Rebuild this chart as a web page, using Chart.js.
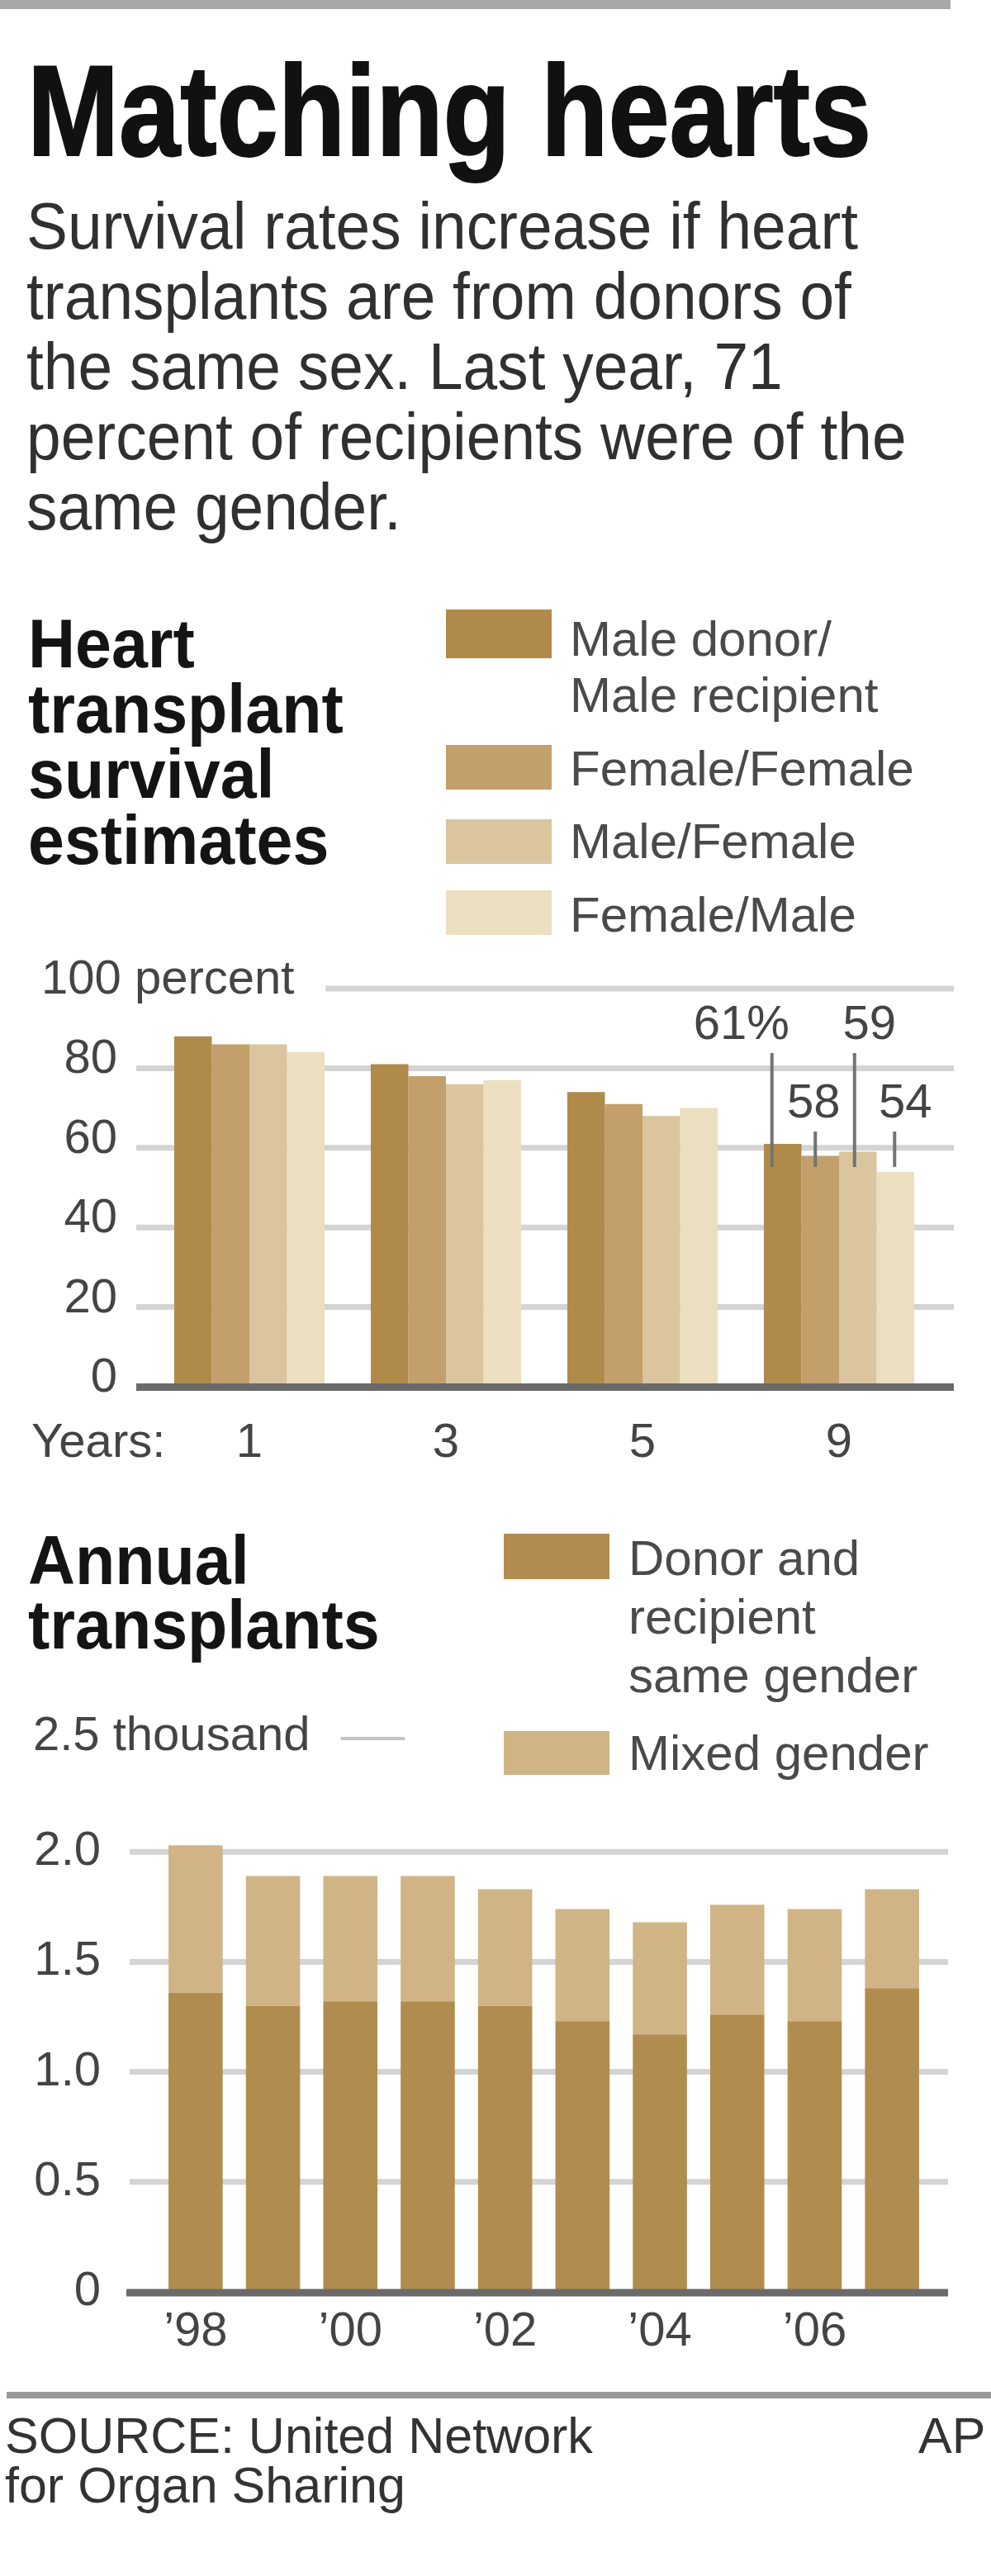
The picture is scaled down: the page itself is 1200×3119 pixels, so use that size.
<!DOCTYPE html>
<html><head><meta charset="utf-8">
<script src="https://cdn.jsdelivr.net/npm/chart.js@4.4.1/dist/chart.umd.min.js"></script>
<style>
html,body{margin:0;padding:0;background:#fff;}
body{width:1200px;height:3119px;position:relative;overflow:hidden;font-family:"Liberation Sans",Arial,Helvetica,sans-serif;}
.t{position:absolute;white-space:nowrap;transform-origin:0 0;}
.box{position:absolute;}
.cv{position:absolute;left:0;width:1200px;}
</style></head><body>
<div class="box" style="left:0;top:0;width:1151px;height:11px;background:#a8a8a8"></div>
<div class="box" style="left:8px;top:2896px;width:1192px;height:8px;background:#9a9a9a"></div>
<div class="cv" style="top:1100px;height:700px"><canvas id="c1" width="1200" height="700"></canvas></div>
<div class="cv" style="top:2000px;height:900px"><canvas id="c2" width="1200" height="900"></canvas></div>
<script>
// ---------------- DATA ----------------
const survivalYears = ['1', '3', '5', '9'];
const maleMale = [88, 81, 74, 61];
const femaleFemale = [86, 78, 71, 58];
const maleFemale = [86, 76, 68, 59];
const femaleMale = [84, 77, 70, 54];
const survivalSeries = ['Male donor/Male recipient', 'Female/Female', 'Male/Female', 'Female/Male'];
const nineYearLabels = ['61%', '58', '59', '54'];
const survivalTicks = [0, 20, 40, 60, 80, 100];

const transplantYears = ['1998', '1999', '2000', '2001', '2002', '2003', '2004', '2005', '2006', '2007'];
const sameGender = [1.36, 1.30, 1.32, 1.32, 1.30, 1.23, 1.17, 1.26, 1.23, 1.38];
const mixedGender = [0.67, 0.59, 0.57, 0.57, 0.53, 0.51, 0.51, 0.50, 0.51, 0.45];
const transplantSeries = ['Donor and recipient same gender', 'Mixed gender'];
const transplantTicks = [0, 0.5, 1.0, 1.5, 2.0, 2.5];

// ---------------- STYLE ----------------
const FONT = "'Liberation Sans', Arial, Helvetica, sans-serif";
const survivalColors = ['#B08A4A', '#C29F6B', '#DAC59E', '#ECDFBF'];
const transplantColors = ['#B18C4F', '#D0B485'];
const gridColor = '#d4d4d4';
const zeroColor = '#6a6a6a';
const tickColor = '#444';
const annot = { // annotation placement relative to each 9-year bar
  lineDx: [-13, -6, -4, -1],
  textDx: [-50, -8, 14, 12],
  textAt: [90.7, 71, 90.7, 71],
  lineTop: [83.8, 64.1, 83.8, 64.1],
  lineBottom: 55.2
};

Chart.defaults.font.family = FONT;
Chart.defaults.color = tickColor;

// ---------------- TEXT HELPERS ----------------
function txt(s, x, base, fs, o) {
  o = o || {};
  const d = document.createElement('div');
  d.className = 't';
  d.textContent = s;
  d.style.left = x + 'px';
  d.style.top = (base - 0.8465 * fs) + 'px';
  d.style.fontSize = fs + 'px';
  d.style.lineHeight = fs + 'px';
  d.style.fontWeight = o.bold ? 'bold' : 'normal';
  d.style.color = o.color || '#222';
  if (o.sx) d.style.transform = 'scaleX(' + o.sx + ')';
  if (o.stroke) d.style.webkitTextStroke = o.stroke;
  document.body.appendChild(d);
}
function box(x, y, w, h, c) {
  const d = document.createElement('div');
  d.className = 'box';
  d.style.cssText = `left:${x}px;top:${y}px;width:${w}px;height:${h}px;background:${c}`;
  document.body.appendChild(d);
}

// title + intro
txt('Matching hearts', 33, 188, 155, {bold: true, color: '#111', sx: 0.86, stroke: '2px #111'});
['Survival rates increase if heart', 'transplants are from donors of', 'the same sex. Last year, 71',
 'percent of recipients were of the', 'same gender.'].forEach((s, i) =>
  txt(s, 32, 302 + 85 * i, 80, {color: '#303030', sx: 0.936}));

// section 1 heading + legend
['Heart', 'transplant', 'survival', 'estimates'].forEach((s, i) =>
  txt(s, 34, 808 + 79.3 * i, 84, {bold: true, color: '#141414', sx: 0.94}));
const lg1Boxes = [[738, 59], [902, 54], [992, 54], [1078, 54]];
lg1Boxes.forEach((b, i) => box(540, b[0], 128, b[1], survivalColors[i]));
const lg1Lines = [['Male donor/', 795], ['Male recipient', 863], ['Female/Female', 952], ['Male/Female', 1040], ['Female/Male', 1129]];
lg1Lines.forEach(l => txt(l[0], 690, l[1], 60, {color: '#4a4a4a'}));

// section 2 heading + legend
['Annual', 'transplants'].forEach((s, i) =>
  txt(s, 34, 1918 + 78 * i, 84, {bold: true, color: '#141414', sx: 0.94}));
box(610, 1857, 128, 55, transplantColors[0]);
box(610, 2096, 128, 53, transplantColors[1]);
[['Donor and', 1908], ['recipient', 1979], ['same gender', 2050], ['Mixed gender', 2144]].forEach(l =>
  txt(l[0], 761, l[1], 60, {color: '#4a4a4a'}));

// source
txt('SOURCE: United Network', 6, 2971, 61, {color: '#333'});
txt('for Organ Sharing', 6, 3031, 61, {color: '#333'});
txt('AP', 1112, 2971, 61, {color: '#333'});

// ---------------- CHART 1 ----------------
const tickFont = {size: 58, family: FONT, lineHeight: 1.2};
const decor1 = {
  id: 'decor1',
  beforeDatasetsDraw(chart) {
    const {ctx, chartArea: a, scales: {x, y}} = chart;
    ctx.save();
    ctx.font = '58px ' + FONT;
    ctx.fillStyle = tickColor;
    ctx.textBaseline = 'middle';
    ctx.textAlign = 'left';
    const topY = y.getPixelForValue(100);
    ctx.fillText('100 percent', 50, topY - 10);
    const w = ctx.measureText('100 percent').width;
    ctx.strokeStyle = gridColor;
    ctx.lineWidth = 7;
    survivalTicks.forEach(v => {
      if (v === 0) return;
      const py = y.getPixelForValue(v);
      ctx.beginPath();
      ctx.moveTo(v === 100 ? 50 + w + 38 : a.left - 18, py);
      ctx.lineTo(a.right + 20, py);
      ctx.stroke();
    });
    ctx.fillText('Years:', 38, x.top + 34 + 58 * 1.2 / 2);
    ctx.restore();
  },
  afterDatasetsDraw(chart) {
    const {ctx, chartArea: a, scales: {y}} = chart;
    ctx.save();
    ctx.strokeStyle = zeroColor;
    ctx.lineWidth = 9;
    const zy = y.getPixelForValue(0) + 0.5;
    ctx.beginPath(); ctx.moveTo(a.left - 18, zy); ctx.lineTo(a.right + 20, zy); ctx.stroke();
    // 9-year value labels
    ctx.font = '58px ' + FONT;
    ctx.fillStyle = tickColor;
    ctx.textAlign = 'center';
    ctx.textBaseline = 'middle';
    ctx.strokeStyle = '#737373';
    ctx.lineWidth = 4;
    nineYearLabels.forEach((lab, i) => {
      const bar = chart.getDatasetMeta(i).data[3];
      const lx = bar.x + annot.lineDx[i];
      ctx.beginPath();
      ctx.moveTo(lx, y.getPixelForValue(annot.lineTop[i]));
      ctx.lineTo(lx, y.getPixelForValue(annot.lineBottom));
      ctx.stroke();
      ctx.fillText(lab, bar.x + annot.textDx[i], y.getPixelForValue(annot.textAt[i]));
    });
    ctx.restore();
  }
};

new Chart(document.getElementById('c1'), {
  type: 'bar',
  data: {
    labels: survivalYears,
    datasets: [maleMale, femaleFemale, maleFemale, femaleMale].map((d, i) => ({
      label: survivalSeries[i], data: d, backgroundColor: survivalColors[i],
      borderWidth: 0, barPercentage: 1.0, categoryPercentage: 0.765
    }))
  },
  options: {
    responsive: false, animation: false, devicePixelRatio: 1,
    layout: {padding: {top: 97, right: 65, left: 0, bottom: 0}},
    plugins: {legend: {display: false}, tooltip: {enabled: false}},
    scales: {
      x: {
        grid: {display: false, drawTicks: false}, border: {display: false},
        ticks: {font: tickFont, color: tickColor, padding: 34, maxRotation: 0},
        afterFit(s) { s.height = 121; }
      },
      y: {
        min: 0, max: 100,
        grid: {display: false, drawTicks: false}, border: {display: false},
        afterBuildTicks(s) { s.ticks = survivalTicks.map(v => ({value: v})); },
        ticks: {font: tickFont, color: tickColor, padding: 41, labelOffset: -10,
          callback: v => (v === 100 ? '' : String(v))},
        afterFit(s) { s.width = 183; }
      }
    }
  },
  plugins: [decor1]
});

// ---------------- CHART 2 ----------------
const decor2 = {
  id: 'decor2',
  beforeDatasetsDraw(chart) {
    const {ctx, chartArea: a, scales: {y}} = chart;
    ctx.save();
    ctx.strokeStyle = gridColor;
    ctx.lineWidth = 7;
    transplantTicks.forEach(v => {
      if (v === 0 || v === 2.5) return;
      const py = y.getPixelForValue(v);
      ctx.beginPath(); ctx.moveTo(a.left - 33, py); ctx.lineTo(a.right + 21, py); ctx.stroke();
    });
    ctx.font = '58px ' + FONT;
    ctx.fillStyle = tickColor;
    ctx.textAlign = 'left';
    ctx.textBaseline = 'middle';
    const ty = y.getPixelForValue(2.5);
    ctx.fillText('2.5 thousand', 40, ty - 6);
    const w = ctx.measureText('2.5 thousand').width;
    ctx.lineWidth = 4;
    ctx.strokeStyle = '#c4c4c4';
    ctx.beginPath(); ctx.moveTo(40 + w + 37, ty - 4); ctx.lineTo(40 + w + 115, ty - 4); ctx.stroke();
    ctx.restore();
  },
  afterDatasetsDraw(chart) {
    const {ctx, chartArea: a, scales: {y}} = chart;
    ctx.save();
    ctx.strokeStyle = zeroColor;
    ctx.lineWidth = 9;
    const zy = y.getPixelForValue(0) + 1;
    ctx.beginPath(); ctx.moveTo(a.left - 37, zy); ctx.lineTo(a.right + 21, zy); ctx.stroke();
    ctx.restore();
  }
};

new Chart(document.getElementById('c2'), {
  type: 'bar',
  data: {
    labels: transplantYears,
    datasets: [sameGender, mixedGender].map((d, i) => ({
      label: transplantSeries[i], data: d, backgroundColor: transplantColors[i],
      borderWidth: 0, barPercentage: 0.70, categoryPercentage: 1.0
    }))
  },
  options: {
    responsive: false, animation: false, devicePixelRatio: 1,
    layout: {padding: {top: 109, right: 73, left: 0, bottom: 0}},
    plugins: {legend: {display: false}, tooltip: {enabled: false}},
    scales: {
      x: {
        stacked: true,
        grid: {display: false, drawTicks: false}, border: {display: false},
        ticks: {font: tickFont, color: tickColor, padding: 14, maxRotation: 0, autoSkip: false,
          callback: (v, i) => (i % 2 === 0 ? '\u2019' + transplantYears[i].slice(2) : '')},
        afterFit(s) { s.height = 125; }
      },
      y: {
        stacked: true, min: 0, max: 2.5,
        grid: {display: false, drawTicks: false}, border: {display: false},
        afterBuildTicks(s) { s.ticks = transplantTicks.map(v => ({value: v})); },
        ticks: {font: tickFont, color: tickColor, padding: 68,
          callback: v => (v === 2.5 ? '' : (v === 0 ? '0' : v.toFixed(1)))},
        afterFit(s) { s.width = 190; }
      }
    }
  },
  plugins: [decor2]
});
</script>
</body></html>
